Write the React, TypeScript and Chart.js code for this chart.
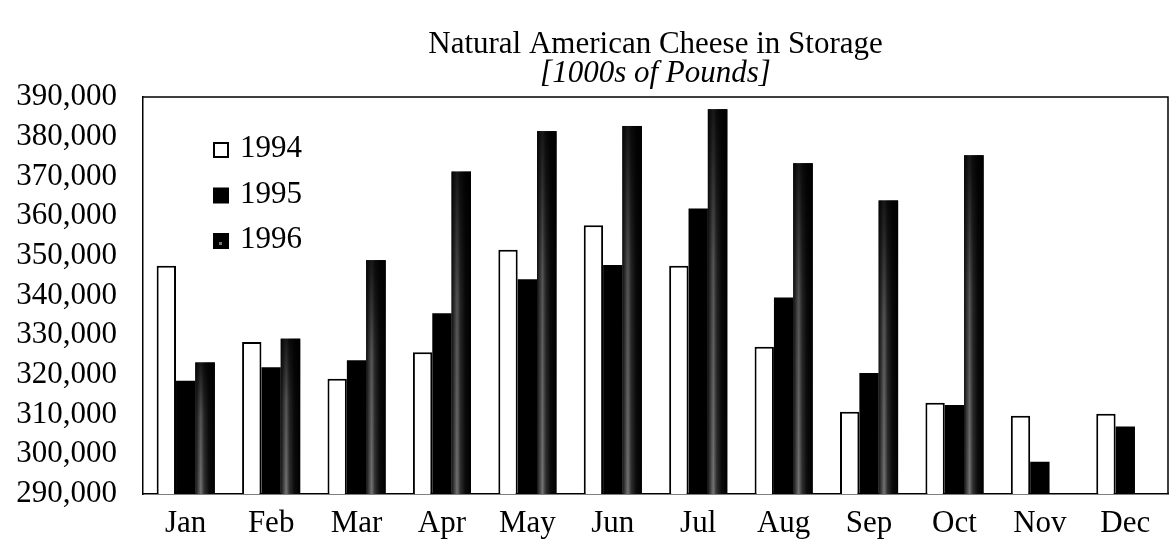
import React, { useEffect, useRef } from "react";
import { Chart, registerables } from "chart.js";

Chart.register(...registerables);

// Month-end stocks of natural American cheese, thousands of pounds
const MONTHS = ["Jan", "Feb", "Mar", "Apr", "May", "Jun", "Jul", "Aug", "Sep", "Oct", "Nov", "Dec"];
const SERIES_LABELS = ["1994", "1995", "1996"];
const STOCKS_1994 = [347500, 328300, 319000, 325700, 351500, 357700, 347500, 327100, 310700, 313000, 309700, 310200];
const STOCKS_1995 = [318500, 321900, 323700, 335500, 344100, 347700, 361900, 339500, 320500, 312400, 298100, 307000];
const STOCKS_1996 = [323100, 329100, 348900, 371200, 381400, 382700, 386900, 373300, 363900, 375300, null, null];

const Y_MIN = 290000;
const Y_MAX = 390000;
const Y_STEP = 10000;

const TITLE = "Natural American Cheese in Storage";
const SUBTITLE = "[1000s of Pounds]";

const FONT = "'Liberation Serif', 'Times New Roman', serif";
const FONT_SIZE = 31;

// Title, frame, in-plot legend and the mottled fill of the 1996 bars
const decorations = {
  id: "decorations",
  afterDatasetsDraw(chart: any) {
    const ctx = chart.ctx;
    const area = chart.chartArea;
    const bottom = chart.scales.y.getPixelForValue(Y_MIN);
    const meta = chart.getDatasetMeta(2);
    ctx.save();
    ctx.beginPath();
    ctx.rect(area.left, area.top, area.right - area.left, area.bottom - area.top);
    ctx.clip();
    meta.data.forEach((bar: any, i: number) => {
      if (STOCKS_1996[i] == null) return;
      const { x, y, width } = bar.getProps(["x", "y", "width"], true);
      const left = x - width / 2;
      const h = bottom - y;
      const g = ctx.createLinearGradient(left, 0, left + width, 0);
      g.addColorStop(0, "#151515");
      g.addColorStop(0.15, "#4a4a4a");
      g.addColorStop(0.28, "#7a7a7a");
      g.addColorStop(0.45, "#333");
      g.addColorStop(0.7, "#0c0c0c");
      g.addColorStop(1, "#000");
      ctx.fillStyle = g;
      ctx.fillRect(left, y, width, h);
      // upper part of each bar is nearly solid black
      const v = ctx.createLinearGradient(0, y, 0, bottom);
      v.addColorStop(0, "rgba(0,0,0,0.8)");
      v.addColorStop(0.4, "rgba(0,0,0,0.3)");
      v.addColorStop(1, "rgba(0,0,0,0.05)");
      ctx.fillStyle = v;
      ctx.fillRect(left, y, width, h);
    });
    ctx.restore();
  },
  afterDraw(chart: any) {
    const ctx = chart.ctx;
    const area = chart.chartArea;
    ctx.save();

    // plot frame
    ctx.strokeStyle = "#000";
    ctx.lineWidth = 1.5;
    ctx.beginPath();
    ctx.moveTo(area.left, area.top);
    ctx.lineTo(area.right, area.top);
    ctx.lineTo(area.right, area.bottom);
    ctx.stroke();

    // titles
    const cx = (area.left + area.right) / 2;
    ctx.fillStyle = "#000";
    ctx.textAlign = "center";
    ctx.textBaseline = "middle";
    ctx.font = `${FONT_SIZE}px ${FONT}`;
    ctx.fillText(TITLE, cx, 45);
    ctx.font = `italic ${FONT_SIZE}px ${FONT}`;
    ctx.fillText(SUBTITLE, cx, 74);

    // legend
    ctx.textAlign = "left";
    ctx.font = `${FONT_SIZE}px ${FONT}`;
    const sx = area.left + 71;
    chart.data.datasets.forEach((ds: any, i: number) => {
      const cy = area.top + 53 + i * 45.5;
      const s = 14;
      if (i === 0) {
        ctx.fillStyle = "#fff";
        ctx.fillRect(sx, cy - s / 2, s, s);
        ctx.lineWidth = 2;
        ctx.strokeStyle = "#000";
        ctx.strokeRect(sx, cy - s / 2, s, s);
      } else {
        ctx.fillStyle = "#000";
        ctx.fillRect(sx - 1, cy - s / 2 - 1, s + 2, s + 2);
        if (i === 2) {
          ctx.fillStyle = "#777";
          ctx.fillRect(sx + 5, cy + 1, 3, 3);
        }
      }
      ctx.fillStyle = "#000";
      ctx.fillText(ds.label, sx + s + 12, cy - 1);
    });
    ctx.restore();
  },
};

export default function App() {
  const canvasRef = useRef<HTMLCanvasElement | null>(null);

  useEffect(() => {
    document.body.style.margin = "0";
    const canvas = canvasRef.current;
    if (!canvas) return;
    const chart = new Chart(canvas, {
      type: "bar",
      data: {
        labels: MONTHS,
        datasets: [
          {
            label: SERIES_LABELS[0],
            data: STOCKS_1994,
            backgroundColor: "#fff",
            borderColor: "#000",
            borderWidth: 2,
          },
          {
            label: SERIES_LABELS[1],
            data: STOCKS_1995,
            backgroundColor: "#000",
            borderWidth: 0,
          },
          {
            label: SERIES_LABELS[2],
            data: STOCKS_1996,
            backgroundColor: "#111",
            borderWidth: 0,
          },
        ],
      },
      options: {
        responsive: false,
        animation: false,
        devicePixelRatio: 1,
        layout: { padding: { top: 97, right: 1, bottom: 0, left: 0 } },
        datasets: {
          bar: { categoryPercentage: 0.68, barPercentage: 1.0 },
        },
        plugins: {
          legend: { display: false },
          title: { display: false },
          tooltip: { enabled: false },
        },
        scales: {
          x: {
            grid: { display: false, drawTicks: false },
            border: { display: true, color: "#000", width: 1.5 },
            ticks: {
              color: "#000",
              font: { family: FONT, size: FONT_SIZE },
              padding: 11,
              maxRotation: 0,
              autoSkip: false,
            },
            afterFit(scale: any) {
              scale.height = 56;
            },
          },
          y: {
            min: Y_MIN,
            max: Y_MAX,
            grid: { display: false, drawTicks: false },
            border: { display: true, color: "#000", width: 1.5 },
            ticks: {
              stepSize: Y_STEP,
              autoSkip: false,
              color: "#000",
              font: { family: FONT, size: FONT_SIZE },
              padding: 26,
              callback: (v: any) => Number(v).toLocaleString("en-US"),
            },
            afterFit(scale: any) {
              scale.width = 143;
            },
          },
        },
      },
      plugins: [decorations],
    });
    return () => chart.destroy();
  }, []);

  return (
    <div style={{ width: 1169, height: 550, overflow: "hidden", background: "#fff" }}>
      <canvas ref={canvasRef} width={1169} height={550} />
    </div>
  );
}
